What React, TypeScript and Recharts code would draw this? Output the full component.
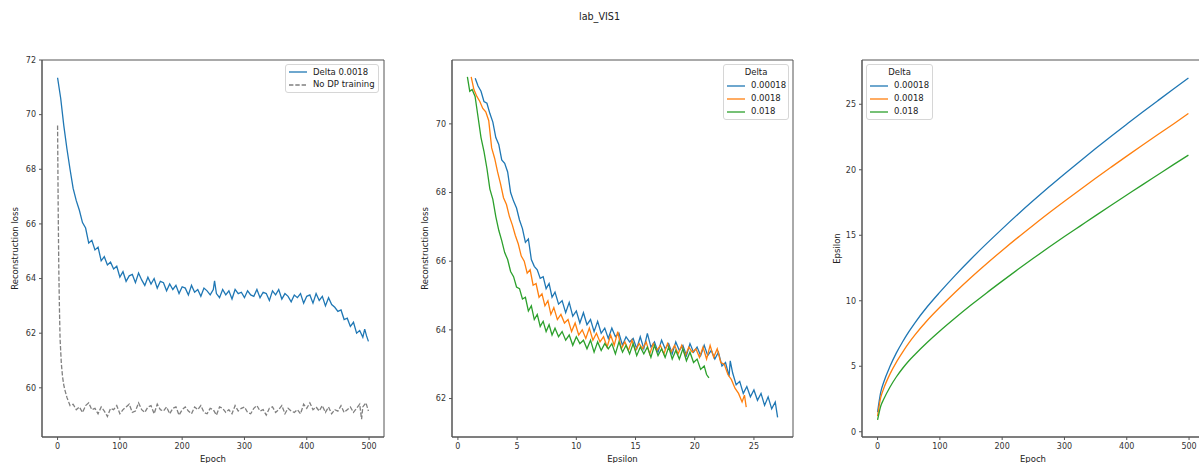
import React from "react";
import { LineChart, Line, XAxis, YAxis, Legend, ReferenceArea } from "recharts";

const FONT = "'DejaVu Sans', sans-serif";
const BLUE = '#1f77b4';
const ORANGE = '#ff7f0e';
const GREEN = '#2ca02c';
const GRAY = '#808080';
const AXIS = '#555';

// ---- panel 1: loss per epoch ----
const epochTicks = [0, 100, 200, 300, 400, 500];
const lossTicks1 = [60, 62, 64, 66, 68, 70, 72];

const lossDelta0018 = [
    [0, 71.35], [5, 70.6], [10, 69.6], [15, 68.75], [20, 68.0], [25, 67.3], [30, 66.85], [35, 66.5], [40, 66.05], [45, 65.85],
    [50, 65.3], [55, 65.4], [60, 65.05], [65, 65.15], [70, 64.65], [75, 64.8], [80, 64.5], [85, 64.6], [90, 64.35], [95, 64.45],
    [100, 64.05], [105, 64.25], [110, 63.9], [115, 64.1], [120, 64.15], [125, 63.85], [130, 64.2], [135, 63.95], [140, 63.75], [145, 64.05],
    [150, 63.8], [155, 64.0], [160, 63.65], [165, 63.9], [170, 63.85], [175, 63.55], [180, 63.8], [185, 63.6], [190, 63.75], [195, 63.45],
    [200, 63.7], [205, 63.65], [210, 63.4], [215, 63.75], [220, 63.5], [225, 63.6], [230, 63.35], [235, 63.65], [240, 63.55], [245, 63.4],
    [250, 63.6], [252, 63.92], [255, 63.45], [260, 63.3], [265, 63.6], [270, 63.4], [275, 63.55], [280, 63.25], [285, 63.6], [290, 63.45],
    [295, 63.5], [300, 63.3], [305, 63.55], [310, 63.4], [315, 63.35], [320, 63.6], [325, 63.3], [330, 63.5], [335, 63.45], [340, 63.2],
    [345, 63.55], [350, 63.4], [355, 63.6], [360, 63.25], [365, 63.45], [370, 63.35], [375, 63.15], [380, 63.4], [385, 63.3], [390, 63.45],
    [395, 63.1], [400, 63.35], [405, 63.4], [410, 63.1], [415, 63.45], [420, 63.2], [425, 63.35], [430, 63.0], [435, 63.3], [440, 63.05],
    [445, 62.95], [450, 62.8], [455, 62.85], [460, 62.5], [465, 62.55], [470, 62.25], [475, 62.4], [480, 62.0], [485, 62.1], [490, 61.85],
    [493, 62.15], [496, 61.9], [499, 61.7],
];

const lossNoDp = [
    [0, 69.6], [1, 66.5], [2, 64.3], [3, 62.9], [4, 61.8], [6, 60.9], [8, 60.4], [10, 60.1], [12, 59.9], [15, 59.65],
    [20, 59.35], [25, 59.4], [30, 59.2], [35, 59.3], [40, 59.1], [45, 59.35], [50, 59.45], [55, 59.2], [60, 59.25], [65, 59.05],
    [70, 59.3], [75, 59.15], [80, 58.95], [85, 59.25], [90, 59.2], [95, 59.35], [100, 59.05], [105, 59.2], [110, 59.3], [115, 59.4],
    [120, 59.1], [125, 59.15], [130, 59.45], [135, 59.2], [140, 59.1], [145, 59.3], [150, 59.35], [155, 59.05], [160, 59.4], [165, 59.2],
    [170, 59.15], [175, 59.3], [180, 59.05], [185, 59.25], [190, 59.3], [195, 59.0], [200, 59.2], [205, 59.3], [210, 59.15], [215, 59.05],
    [220, 59.3], [225, 59.2], [230, 59.35], [235, 59.1], [240, 59.05], [245, 59.25], [250, 59.2], [255, 59.0], [260, 59.3], [265, 59.25],
    [270, 59.1], [275, 59.2], [280, 59.05], [285, 59.35], [290, 59.15], [295, 59.25], [300, 59.3], [305, 59.1], [310, 59.05], [315, 59.25],
    [320, 59.35], [325, 59.15], [330, 59.2], [335, 59.0], [340, 59.25], [345, 59.3], [350, 59.1], [355, 59.2], [360, 59.35], [365, 59.05],
    [370, 59.25], [375, 59.15], [380, 59.1], [385, 59.2], [390, 59.05], [395, 59.4], [400, 59.25], [405, 59.45], [410, 59.2], [415, 59.3],
    [420, 59.15], [425, 59.35], [430, 59.1], [435, 59.3], [440, 59.05], [445, 59.2], [450, 59.15], [455, 59.35], [460, 59.1], [465, 59.2],
    [470, 59.3], [475, 59.1], [480, 59.25], [485, 59.4], [488, 58.85], [490, 59.3], [495, 59.45], [499, 59.15],
];

// ---- panel 2: loss per epsilon ----
const epsTicks = [0, 5, 10, 15, 20, 25];
const lossTicks2 = [62, 64, 66, 68, 70];

const lossVsEps00018 = [
    [1.46, 71.33], [1.7, 71.1], [1.95, 70.95], [2.2, 70.65], [2.45, 70.6], [2.7, 70.3], [2.95, 70.05], [3.2, 69.6], [3.45, 69.4], [3.7, 68.95],
    [3.95, 68.85], [4.2, 68.6], [4.45, 68.0], [4.7, 67.75], [4.95, 67.55], [5.2, 67.2], [5.45, 66.95], [5.7, 66.55], [5.95, 66.65], [6.2, 66.05],
    [6.45, 65.85], [6.7, 65.75], [6.95, 65.5], [7.2, 65.55], [7.45, 65.2], [7.7, 65.35], [7.95, 64.95], [8.2, 65.1], [8.5, 64.75], [8.8, 64.85],
    [9.1, 64.5], [9.4, 64.8], [9.7, 64.4], [10.0, 64.55], [10.3, 64.2], [10.6, 64.5], [10.9, 64.15], [11.2, 64.3], [11.5, 63.95], [11.8, 64.25],
    [12.1, 63.9], [12.4, 64.05], [12.7, 63.75], [13.0, 64.05], [13.3, 63.8], [13.6, 63.9], [13.9, 63.55], [14.2, 63.8], [14.5, 63.65], [14.8, 63.75],
    [15.1, 63.45], [15.4, 63.8], [15.7, 63.45], [16.0, 63.9], [16.3, 63.5], [16.6, 63.65], [16.9, 63.35], [17.2, 63.7], [17.5, 63.45], [17.8, 63.6],
    [18.1, 63.3], [18.4, 63.65], [18.7, 63.4], [19.0, 63.55], [19.3, 63.25], [19.6, 63.6], [19.9, 63.35], [20.2, 63.5], [20.5, 63.25], [20.8, 63.55],
    [21.1, 63.25], [21.4, 63.4], [21.7, 63.15], [22.0, 63.35], [22.3, 62.95], [22.6, 63.05], [22.9, 62.65], [23.0, 63.1], [23.2, 62.75], [23.5, 62.4],
    [23.8, 62.5], [24.1, 62.15], [24.4, 62.35], [24.7, 62.05], [25.0, 62.25], [25.3, 61.95], [25.6, 62.15], [25.9, 61.8], [26.2, 62.05], [26.5, 61.7],
    [26.8, 61.9], [27.0, 61.45],
];

const lossVsEps0018 = [
    [1.12, 71.37], [1.35, 71.0], [1.6, 70.8], [1.85, 70.65], [2.1, 70.45], [2.35, 70.35], [2.6, 70.1], [2.85, 69.3], [3.1, 69.0], [3.35, 68.6],
    [3.6, 68.25], [3.85, 67.85], [4.1, 67.65], [4.35, 67.3], [4.6, 67.05], [4.85, 66.75], [5.1, 66.5], [5.35, 66.15], [5.6, 66.0], [5.85, 65.65],
    [6.1, 65.75], [6.35, 65.3], [6.6, 65.35], [6.85, 64.95], [7.1, 65.05], [7.35, 64.7], [7.6, 64.85], [7.85, 64.45], [8.1, 64.65], [8.4, 64.3],
    [8.7, 64.45], [9.0, 64.2], [9.3, 64.3], [9.6, 63.95], [9.9, 64.2], [10.2, 63.85], [10.5, 64.0], [10.8, 63.75], [11.1, 64.05], [11.4, 63.7],
    [11.7, 63.9], [12.0, 63.65], [12.3, 63.8], [12.6, 63.5], [12.9, 63.85], [13.2, 63.55], [13.5, 63.95], [13.8, 63.45], [14.1, 63.65], [14.4, 63.4],
    [14.7, 63.7], [15.0, 63.4], [15.3, 63.6], [15.6, 63.45], [15.9, 63.65], [16.2, 63.3], [16.5, 63.6], [16.8, 63.4], [17.1, 63.55], [17.4, 63.3],
    [17.7, 63.6], [18.0, 63.35], [18.3, 63.55], [18.6, 63.3], [18.9, 63.55], [19.2, 63.25], [19.5, 63.5], [19.8, 63.35], [20.1, 63.45], [20.4, 63.2],
    [20.7, 63.5], [21.0, 63.15], [21.3, 63.55], [21.6, 63.2], [21.9, 63.45], [22.2, 63.05], [22.5, 63.0], [22.8, 62.7], [23.1, 62.55], [23.4, 62.3],
    [23.7, 62.15], [24.0, 61.9], [24.2, 62.1], [24.35, 61.75],
];

const lossVsEps018 = [
    [0.8, 71.37], [1.0, 70.95], [1.2, 71.0], [1.45, 70.8], [1.7, 70.2], [1.95, 69.6], [2.2, 69.2], [2.45, 68.7], [2.7, 68.1], [2.95, 67.8],
    [3.2, 67.3], [3.45, 66.9], [3.7, 66.6], [3.95, 66.25], [4.2, 66.05], [4.45, 65.7], [4.7, 65.55], [4.95, 65.25], [5.2, 65.2], [5.45, 64.9],
    [5.7, 64.95], [5.95, 64.55], [6.2, 64.7], [6.45, 64.3], [6.7, 64.45], [6.95, 64.1], [7.2, 64.25], [7.45, 63.95], [7.7, 64.15], [7.95, 63.85],
    [8.2, 64.05], [8.5, 63.8], [8.8, 63.95], [9.1, 63.7], [9.4, 63.85], [9.7, 63.55], [10.0, 63.8], [10.3, 63.6], [10.6, 63.7], [10.9, 63.45],
    [11.2, 63.7], [11.5, 63.35], [11.8, 63.65], [12.1, 63.4], [12.4, 63.6], [12.7, 63.45], [13.0, 63.6], [13.3, 63.3], [13.6, 63.65], [13.9, 63.35],
    [14.2, 63.55], [14.5, 63.3], [14.8, 63.6], [15.1, 63.25], [15.4, 63.5], [15.7, 63.3], [16.0, 63.5], [16.3, 63.2], [16.6, 63.55], [16.9, 63.25],
    [17.2, 63.45], [17.5, 63.2], [17.8, 63.5], [18.1, 63.15], [18.4, 63.4], [18.7, 63.15], [19.0, 63.45], [19.3, 63.1], [19.6, 63.35], [19.9, 63.05],
    [20.2, 63.15], [20.5, 62.85], [20.8, 62.95], [21.0, 62.7], [21.2, 62.6],
];

// ---- panel 3: epsilon per epoch ----
const epsEpochs = [0, 5, 10, 20, 30, 40, 50, 60, 80, 100, 125, 150, 175, 200, 225, 250, 275, 300, 325, 350, 375, 400, 425, 450, 475, 499];
const eps00018 = [1.5, 3.0, 3.8, 5.0, 6.0, 6.85, 7.62, 8.32, 9.56, 10.66, 11.96, 13.19, 14.36, 15.49, 16.59, 17.65, 18.68, 19.68, 20.66, 21.62, 22.56, 23.48, 24.39, 25.28, 26.16, 27.0];
const eps0018 = [1.2, 2.6, 3.32, 4.42, 5.3, 6.06, 6.76, 7.39, 8.51, 9.5, 10.67, 11.78, 12.83, 13.84, 14.82, 15.77, 16.7, 17.6, 18.48, 19.35, 20.2, 21.04, 21.87, 22.69, 23.5, 24.3];
const eps018 = [0.9, 1.95, 2.5, 3.42, 4.18, 4.83, 5.4, 5.9, 6.83, 7.69, 8.7, 9.67, 10.6, 11.5, 12.38, 13.24, 14.08, 14.9, 15.7, 16.5, 17.29, 18.07, 18.85, 19.62, 20.39, 21.12];
const epsTicks3 = [0, 5, 10, 15, 20, 25];

const pairs = (pts: number[][]) => pts.map(([x, y]) => ({ x, y }));
const epsRows = (vals: number[]) => epsEpochs.map((e, i) => ({ x: e, y: vals[i] }));

const tickStyle = { fontSize: 8, fill: '#333', fontFamily: FONT };
const labelStyle = { fontSize: 8.5, fill: '#222', fontFamily: FONT };

type Series = { name: string; data: { x: number; y: number }[]; color: string; dashed?: boolean };

function LegendBox({ title, series, width }: { title?: string; series: Series[]; width: number }) {
    return (
        <div style={{
            width, boxSizing: 'border-box', border: '1px solid #d6d6d6', borderRadius: 3,
            background: 'rgba(255,255,255,0.85)', padding: '1px 3px 1px 3px',
            fontFamily: FONT, fontSize: 8.5, color: '#222', lineHeight: '13px',
        }}>
            {title && <div style={{ textAlign: 'center', height: 13 }}>{title}</div>}
            {series.map(s => (
                <div key={s.name} style={{ display: 'flex', alignItems: 'center', height: title ? 13 : 12.6 }}>
                    <svg width={18} height={4} style={{ flex: 'none' }}>
                        <line x1={0} y1={2} x2={18} y2={2} stroke={s.color} strokeWidth={1.3}
                            strokeDasharray={s.dashed ? '4.4 1.9' : undefined} />
                    </svg>
                    <span style={{ marginLeft: 6, whiteSpace: 'nowrap' }}>{s.name}</span>
                </div>
            ))}
        </div>
    );
}

interface PanelProps {
    left: number;
    rightMargin: number;
    xDomain: [number, number];
    xTicks: number[];
    yDomain: [number, number];
    yTicks: number[];
    xLabel: string;
    yLabel: string;
    yLabelOffset: number;
    series: Series[];
    smooth?: boolean;
    legendTitle?: string;
    legendLeft: number;
    legendWidth: number;
}

function Panel(p: PanelProps) {
    return (
        <div style={{ position: 'absolute', left: p.left, top: 0 }}>
            <LineChart width={400} height={463} margin={{ top: 60, right: p.rightMargin, bottom: 0, left: 0 }}>
                <XAxis xAxisId="b" dataKey="x" type="number" domain={p.xDomain} ticks={p.xTicks} interval={0}
                    allowDataOverflow height={26} tickSize={3} tickMargin={3} tick={tickStyle}
                    axisLine={{ stroke: AXIS }} tickLine={{ stroke: AXIS }}
                    label={{ value: p.xLabel, position: 'insideBottom', offset: 1, style: labelStyle }} />
                <YAxis yAxisId="l" type="number" domain={p.yDomain} ticks={p.yTicks} interval={0}
                    allowDataOverflow width={42} tickSize={3} tickMargin={3} tick={tickStyle}
                    axisLine={{ stroke: AXIS }} tickLine={{ stroke: AXIS }}
                    label={{ value: p.yLabel, angle: -90, position: 'insideLeft', offset: p.yLabelOffset, style: { ...labelStyle, textAnchor: 'middle' } }} />
                <ReferenceArea xAxisId="b" yAxisId="l" x1={p.xDomain[0]} x2={p.xDomain[1]} y1={p.yDomain[0]} y2={p.yDomain[1]}
                    fill="none" fillOpacity={0} stroke={AXIS} strokeWidth={1} ifOverflow="visible" />
                {p.series.map(s => (
                    <Line key={s.name} xAxisId="b" yAxisId="l" data={s.data} dataKey="y" type={p.smooth ? 'monotone' : 'linear'}
                        stroke={s.color} strokeWidth={1.3} strokeDasharray={s.dashed ? '4.4 1.9' : undefined}
                        dot={false} activeDot={false} isAnimationActive={false} />
                ))}
                <Legend layout="vertical" align="center" verticalAlign="middle"
                    wrapperStyle={{ left: p.legendLeft, top: 64, width: p.legendWidth }}
                    content={() => <LegendBox title={p.legendTitle} series={p.series} width={p.legendWidth} />} />
            </LineChart>
        </div>
    );
}

export default function App() {
    return (
        <div style={{ position: 'fixed', left: 0, top: 0, width: 1199, height: 463, overflow: 'hidden', background: '#fff' }}>
            <div style={{ position: 'absolute', left: 0, width: 1199, top: 11, textAlign: 'center', fontFamily: FONT, fontSize: 9.6, color: '#222' }}>
                lab_VIS1
            </div>
            <Panel left={0} rightMargin={16} xDomain={[-25, 524]} xTicks={epochTicks} yDomain={[58.2, 72]} yTicks={lossTicks1}
                xLabel="Epoch" yLabel="Reconstruction loss" yLabelOffset={15}
                series={[
                    { name: 'Delta 0.0018', data: pairs(lossDelta0018), color: BLUE },
                    { name: 'No DP training', data: pairs(lossNoDp), color: GRAY, dashed: true },
                ]}
                legendLeft={285} legendWidth={94} />
            <Panel left={410} rightMargin={17} xDomain={[-0.5, 28.3]} xTicks={epsTicks} yDomain={[60.88, 71.86]} yTicks={lossTicks2}
                xLabel="Epsilon" yLabel="Reconstruction loss" yLabelOffset={15}
                series={[
                    { name: '0.00018', data: pairs(lossVsEps00018), color: BLUE },
                    { name: '0.0018', data: pairs(lossVsEps0018), color: ORANGE },
                    { name: '0.018', data: pairs(lossVsEps018), color: GREEN },
                ]}
                legendTitle="Delta" legendLeft={313} legendWidth={66} />
            <Panel left={820} rightMargin={16} xDomain={[-25, 524]} xTicks={epochTicks} yDomain={[-0.4, 28.38]} yTicks={epsTicks3}
                xLabel="Epoch" yLabel="Epsilon" yLabelOffset={17} smooth
                series={[
                    { name: '0.00018', data: epsRows(eps00018), color: BLUE },
                    { name: '0.0018', data: epsRows(eps0018), color: ORANGE },
                    { name: '0.018', data: epsRows(eps018), color: GREEN },
                ]}
                legendTitle="Delta" legendLeft={46} legendWidth={67} />
        </div>
    );
}
